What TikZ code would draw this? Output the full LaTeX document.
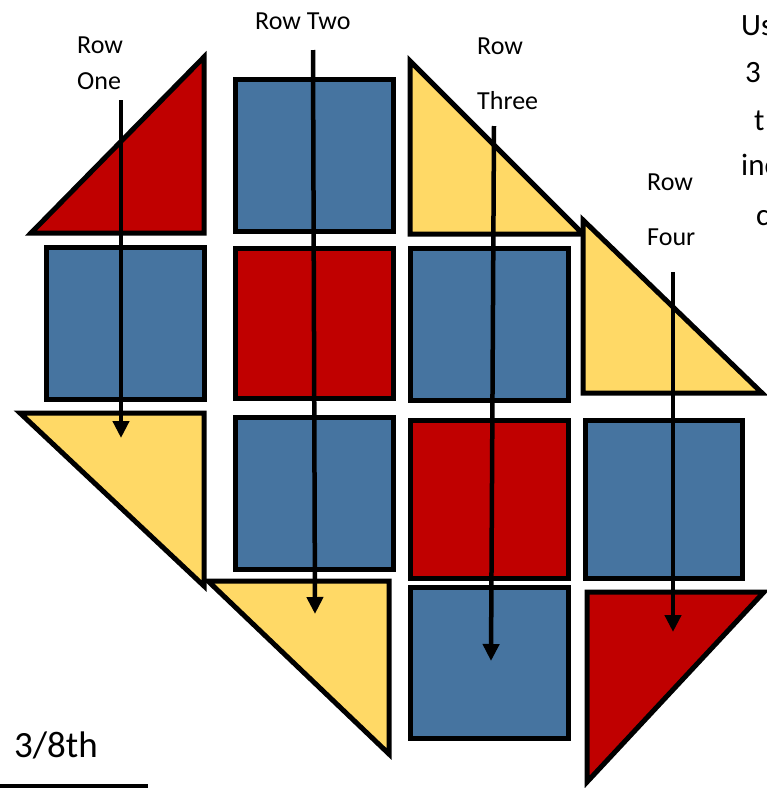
\documentclass[tikz,border=0pt]{standalone}
\usepackage{fontspec}
\setmainfont{Carlito}
\usetikzlibrary{arrows.meta}
\definecolor{qred}{RGB}{192,0,0}
\definecolor{qblue}{RGB}{70,116,160}
\definecolor{qyellow}{RGB}{255,217,102}
\tikzset{
  piece/.style={draw=black,line width=5pt,line join=miter},
  redp/.style={piece,fill=qred},
  bluep/.style={piece,fill=qblue},
  yelp/.style={piece,fill=qyellow},
  rowarrow/.style={line width=4.5pt,-{Triangle[length=17pt,width=16pt]}},
  lbl/.style={inner sep=0pt,font=\fontsize{26}{30}\selectfont,anchor=base west},
  side/.style={inner sep=0pt,font=\fontsize{31}{36}\selectfont,anchor=base west}
}
\begin{document}
\begin{tikzpicture}[x=1pt,y=-1pt]
\useasboundingbox (0,0) rectangle (767,788);
\begin{scope}
\clip (0,0) rectangle (767,788);
% column 1
\draw[redp] (31,233) -- (204,57) -- (204,233) -- cycle;
\draw[bluep] (46,247) rectangle (204,399);
\draw[yelp] (20,413) -- (204,413) -- (204,586) -- cycle;
% column 2
\draw[bluep] (235,79) rectangle (393,231);
\draw[redp] (235,248) rectangle (393,398);
\draw[bluep] (235,417) rectangle (393,569);
\draw[yelp] (208,581) -- (389,581) -- (389,754) -- cycle;
% column 3
\draw[yelp] (410,61) -- (410,234) -- (583,234) -- cycle;
\draw[bluep] (410,248) rectangle (568,400);
\draw[redp] (410,420) rectangle (568,578);
\draw[bluep] (410,587) rectangle (568,738);
% column 4
\draw[yelp] (583,220) -- (583,393) -- (762,393) -- cycle;
\draw[bluep] (585,420) rectangle (742,578);
\draw[redp] (587,592) -- (764,592) -- (587,782) -- cycle;
% labels
\node[lbl] (r1a) at (77,53) {Row};
\node[lbl] (r1b) at (77,89) {One};
\node[lbl] (r2) at (255,29) {Row Two};
\node[lbl] (r3a) at (477,54) {Row};
\node[lbl] (r3b) at (477,109) {Three};
\node[lbl] (r4a) at (647,190) {Row};
\node[lbl] (r4b) at (647,245) {Four};
\node[side] (s1) at (741,35) {Us};
\node[side] (s2) at (745,82) {3};
\node[side] (s3) at (754,130) {t};
\node[side] (s4) at (741,175) {inc};
\node[side] (s5) at (756,225) {c};
\node[inner sep=0pt,font=\fontsize{37}{42}\selectfont,anchor=base west] (frac) at (14,757) {3/8th};
% arrows
\coordinate (a1s) at (121,100);
\coordinate (a1e) at (121,438);
\coordinate (a2s) at (313,50);
\coordinate (a2e) at (315,614);
\coordinate (a3s) at (494,126);
\coordinate (a3e) at (491,661);
\coordinate (a4s) at (673,272);
\coordinate (a4e) at (673,632);
\draw[rowarrow] (a1s) -- (a1e);
\draw[rowarrow] (a2s) -- (a2e);
\draw[rowarrow] (a3s) -- (a3e);
\draw[rowarrow] (a4s) -- (a4e);
% underline
\coordinate (u1) at (0,786);
\coordinate (u2) at (148,786);
\draw[line width=4pt] (u1) -- (u2);
\end{scope}
\end{tikzpicture}
\end{document}
